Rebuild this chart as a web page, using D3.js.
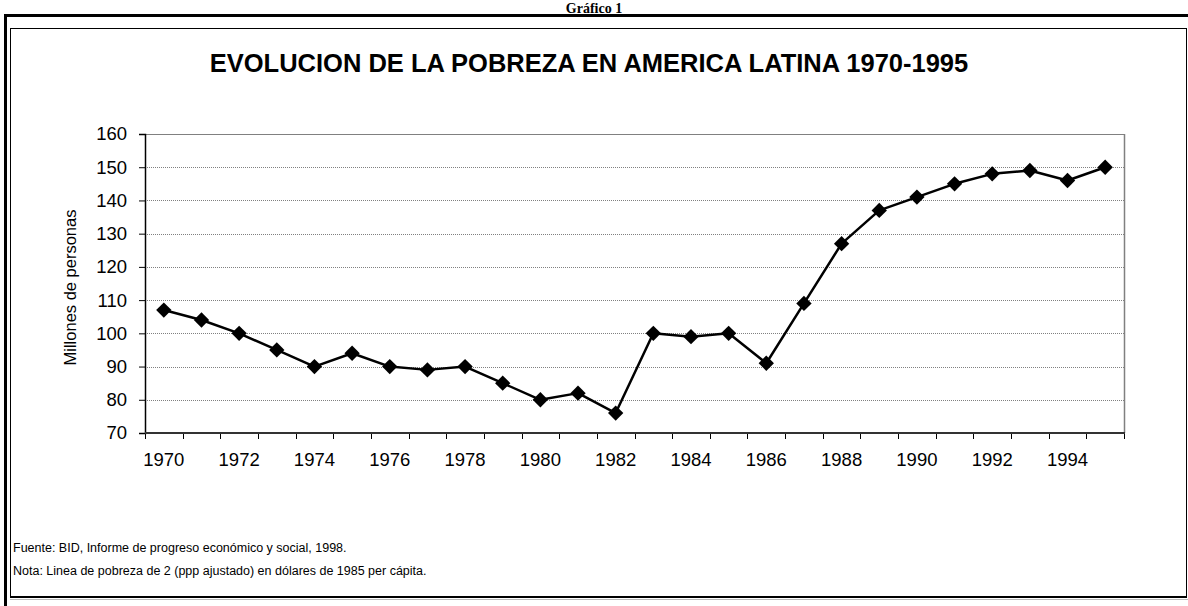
<!DOCTYPE html>
<html>
<head>
<meta charset="utf-8">
<script src="https://cdn.jsdelivr.net/npm/d3@7"></script>
<style>
  html, body { margin: 0; padding: 0; background: #fff; }
  svg { display: block; }
  text { font-family: "Liberation Sans", Arial, sans-serif; fill: #000; }
</style>
</head>
<body>
<svg id="chart" width="1188" height="606"></svg>
<script>
const years = [1970,1971,1972,1973,1974,1975,1976,1977,1978,1979,1980,1981,1982,1983,1984,1985,1986,1987,1988,1989,1990,1991,1992,1993,1994,1995];
const poverty = [107,104,100,95,90,94,90,89,90,85,80,82,76,100,99,100,91,109,127,137,141,145,148,149,146,150];
const yTicks = [70,80,90,100,110,120,130,140,150,160];
const xTickLabels = [1970,1972,1974,1976,1978,1980,1982,1984,1986,1988,1990,1992,1994];
const titleText = "EVOLUCION DE LA POBREZA EN AMERICA LATINA 1970-1995";
const docCaption = "Gráfico 1";
const yLabel = "Millones de personas";
const notes = ["Fuente: BID, Informe de progreso económico y social, 1998.",
               "Nota: Linea de pobreza de 2 (ppp ajustado) en dólares de 1985 per cápita."];

const svg = d3.select("#chart");
const W = 1188, H = 606;
const plot = {left: 145, right: 1124, top: 134, bottom: 433};

// Document caption (at the top edge)
svg.append("text").attr("x", 594).attr("y", 12.5)
  .attr("text-anchor", "middle")
  .style("font-family", "'Liberation Serif', 'Times New Roman', serif")
  .style("font-weight", "bold").style("font-size", "14px")
  .text(docCaption);

// Outer thick frame
svg.append("line").attr("x1", 4).attr("x2", W).attr("y1", 15.5).attr("y2", 15.5)
  .attr("stroke", "#000").attr("stroke-width", 3);
svg.append("line").attr("x1", 5.5).attr("x2", 5.5).attr("y1", 14).attr("y2", H)
  .attr("stroke", "#000").attr("stroke-width", 3);

// Inner chart area border
svg.append("rect").attr("x", 10.5).attr("y", 28.5).attr("width", 1176).attr("height", 568)
  .attr("fill", "#fff").attr("stroke", "#000").attr("stroke-width", 1);
svg.append("line").attr("x1", 10).attr("x2", 1187).attr("y1", 597).attr("y2", 597)
  .attr("stroke", "#000").attr("stroke-width", 2);
svg.append("line").attr("x1", 10).attr("x2", W).attr("y1", 599.5).attr("y2", 599.5)
  .attr("stroke", "#bbb").attr("stroke-width", 1);

// Title
svg.append("text").attr("x", 589).attr("y", 72)
  .attr("text-anchor", "middle")
  .style("font-weight", "bold").style("font-size", "25.5px")
  .text(titleText);

const x = d3.scaleBand().domain(years).range([plot.left, plot.right]).padding(0);
const y = d3.scaleLinear().domain([70, 160]).range([plot.bottom, plot.top]);
const cx = d => x(d) + x.bandwidth() / 2;

// Gridlines
svg.append("g").selectAll("line").data(yTicks.filter(v => v > 70)).join("line")
  .attr("x1", plot.left).attr("x2", plot.right)
  .attr("y1", d => Math.round(y(d)) + 0.5).attr("y2", d => Math.round(y(d)) + 0.5)
  .attr("stroke", "#808080").attr("stroke-width", 1)
  .attr("stroke-dasharray", d => d === 160 ? null : "1,1");

// Plot area right border
svg.append("line").attr("x1", plot.right + 0.5).attr("x2", plot.right + 0.5)
  .attr("y1", plot.top).attr("y2", plot.bottom)
  .attr("stroke", "#808080").attr("stroke-width", 1.5);

// Y axis
const yAxis = svg.append("g").attr("transform", `translate(${plot.left},0)`)
  .call(d3.axisLeft(y).tickValues(yTicks).tickSize(6).tickPadding(12).tickFormat(d3.format("d")));
yAxis.select(".domain").attr("stroke", "#000").attr("stroke-width", 1.5);
yAxis.selectAll(".tick line").attr("stroke", "#000");
yAxis.selectAll(".tick text").style("font-size", "18.5px").style("font-family", "'Liberation Sans', Arial, sans-serif");

// X axis: labels at category centers
const xAxis = svg.append("g").attr("transform", `translate(0,${plot.bottom})`)
  .call(d3.axisBottom(x).tickValues(xTickLabels).tickSize(0).tickPadding(20));
xAxis.select(".domain").remove();
xAxis.selectAll(".tick text").style("font-size", "18.5px").style("font-family", "'Liberation Sans', Arial, sans-serif");

// X axis line and tick marks at category boundaries
const bounds = years.map(d => x(d)).concat([plot.right]);
svg.append("g").selectAll("line").data(bounds).join("line")
  .attr("x1", d => Math.round(d) + 0.5).attr("x2", d => Math.round(d) + 0.5)
  .attr("y1", plot.bottom).attr("y2", plot.bottom + 6)
  .attr("stroke", "#000").attr("stroke-width", 1);
svg.append("line").attr("x1", plot.left).attr("x2", plot.right + 1)
  .attr("y1", plot.bottom).attr("y2", plot.bottom)
  .attr("stroke", "#333").attr("stroke-width", 2);

// Y label
svg.append("text")
  .attr("transform", `translate(76,${(plot.top + plot.bottom) / 2 + 4}) rotate(-90)`)
  .attr("text-anchor", "middle").style("font-size", "16.5px")
  .text(yLabel);

// Line
const line = d3.line().x((d, i) => cx(years[i])).y(d => y(d));
svg.append("path").datum(poverty).attr("d", line)
  .attr("fill", "none").attr("stroke", "#000").attr("stroke-width", 2.5)
  .attr("stroke-linejoin", "round");

// Diamond markers
const diamond = d3.symbol().type(d3.symbolDiamond2).size(150);
svg.append("g").selectAll("path").data(poverty).join("path")
  .attr("transform", (d, i) => `translate(${cx(years[i])},${y(d)})`)
  .attr("d", diamond).attr("fill", "#000");

// Notes
svg.append("g").selectAll("text").data(notes).join("text")
  .attr("x", 13).attr("y", (d, i) => 552 + i * 23)
  .style("font-size", "12.5px")
  .text(d => d);
</script>
</body>
</html>
